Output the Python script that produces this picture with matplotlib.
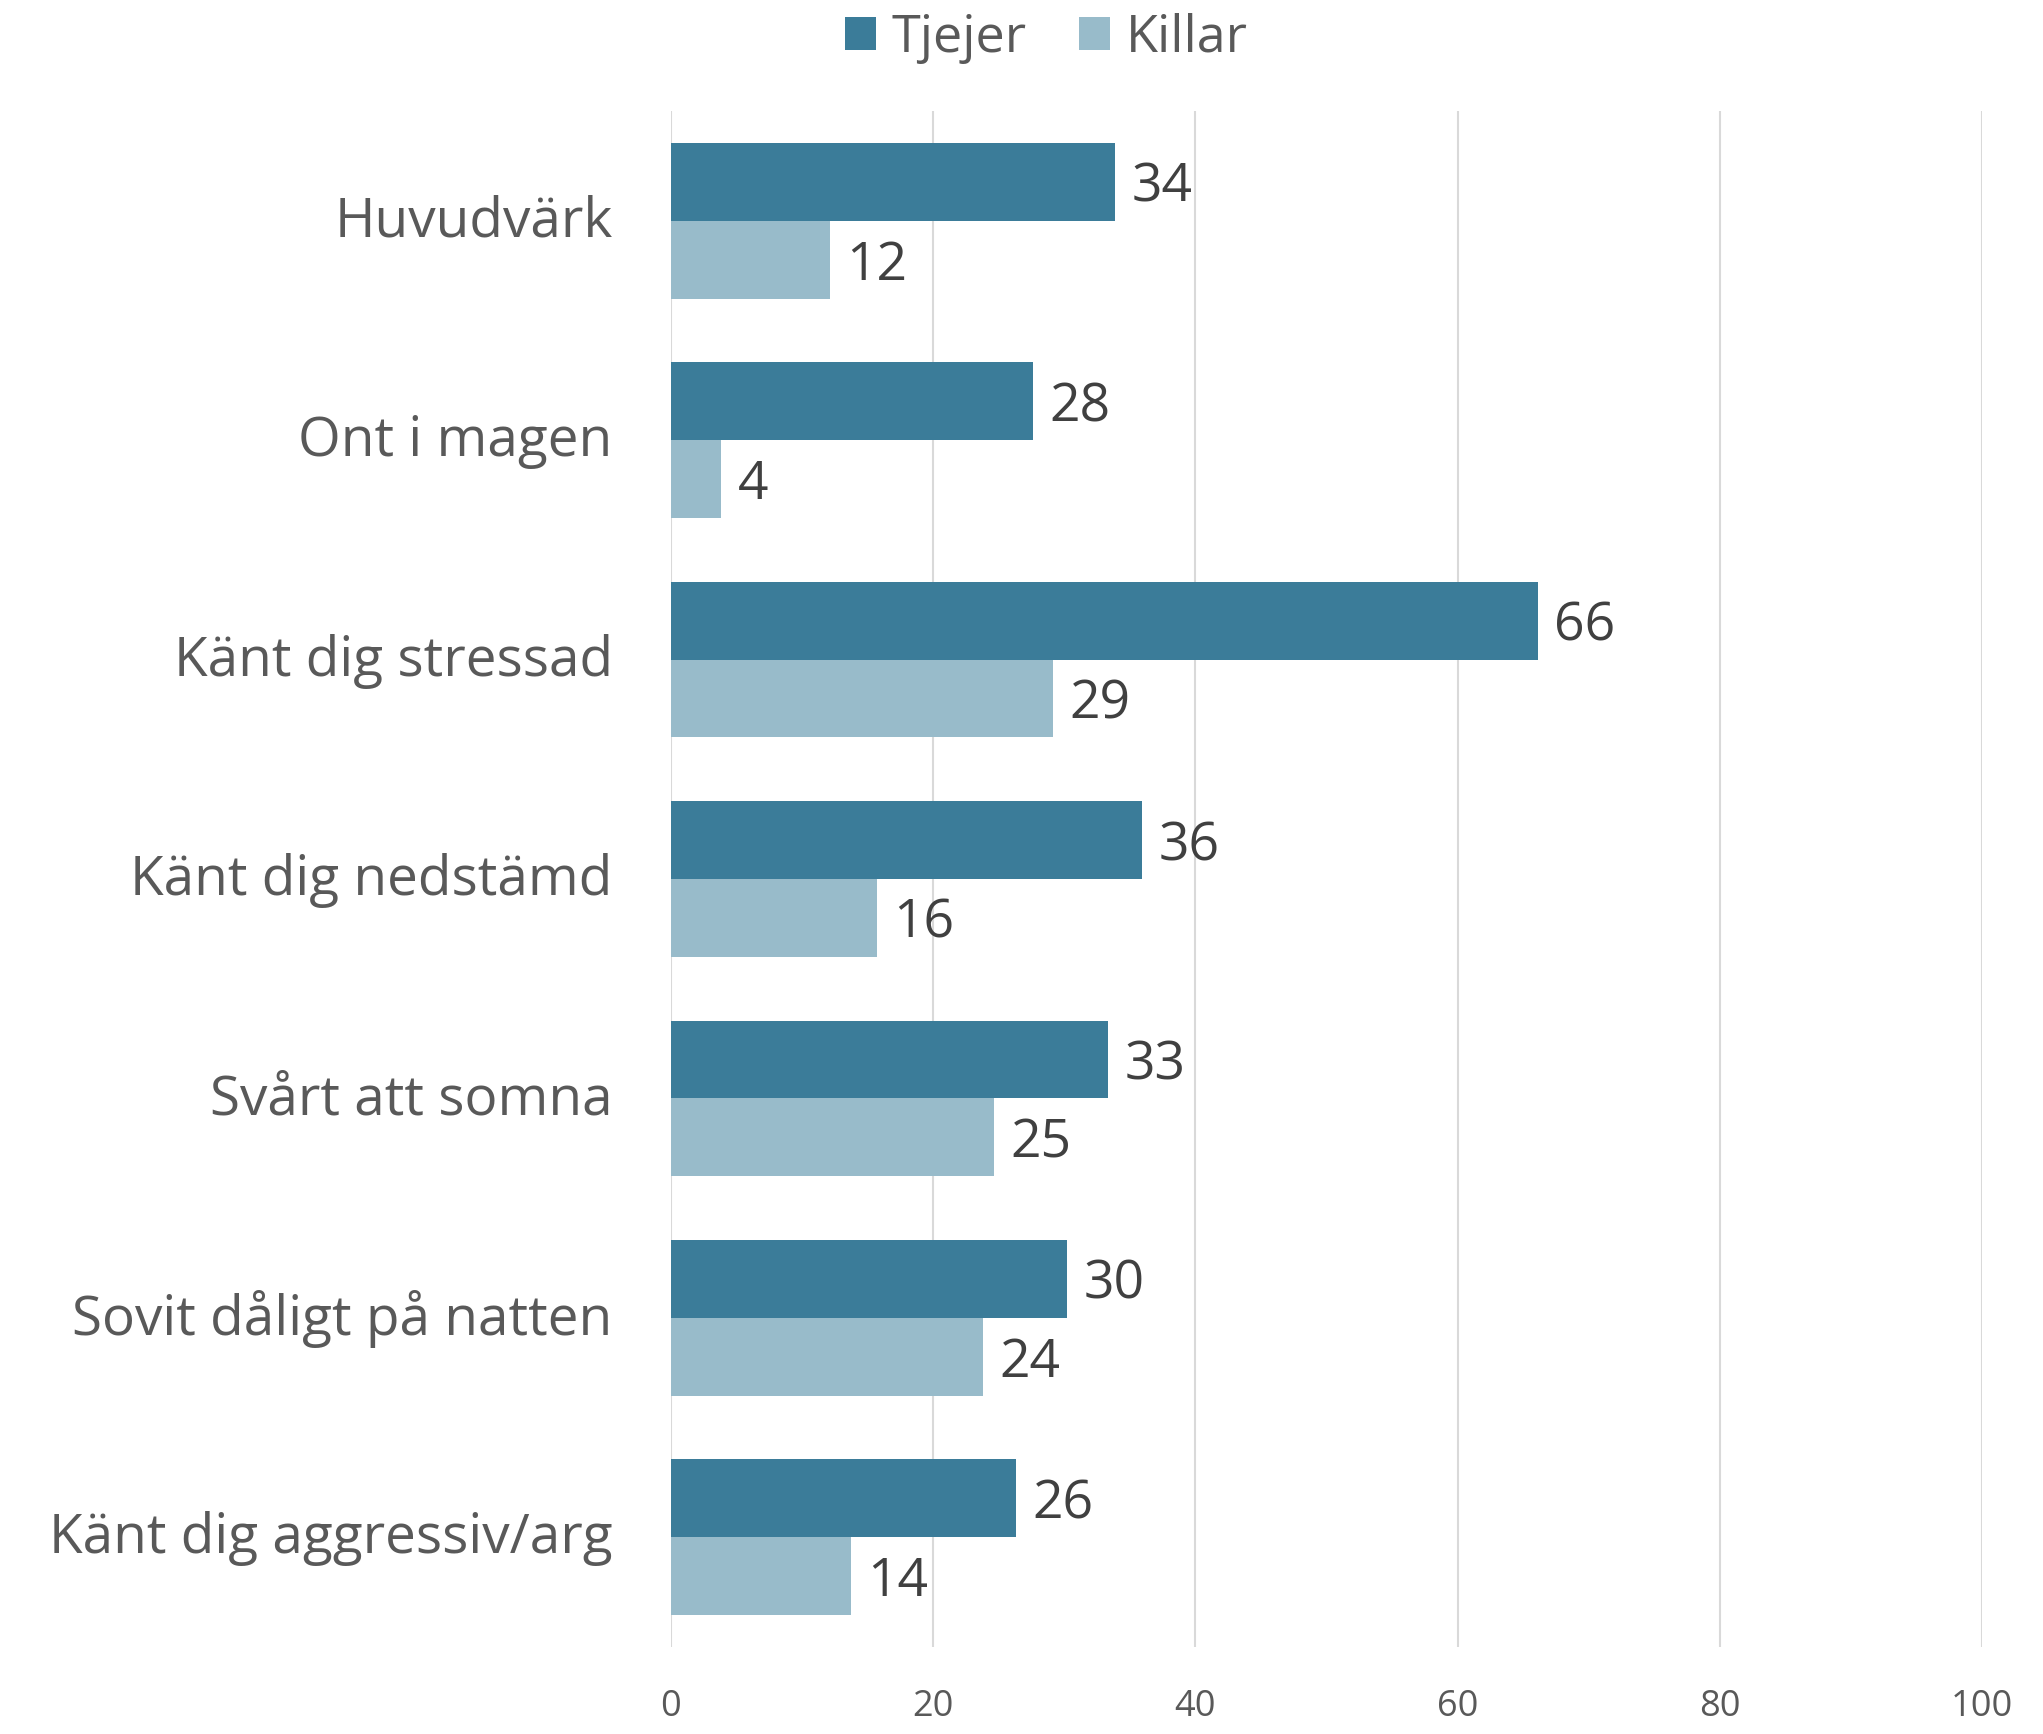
import matplotlib
matplotlib.use("Agg")
import matplotlib.pyplot as plt
import matplotlib.transforms as mtransforms
import numpy as np

categories = ["Huvudvärk", "Ont i magen", "Känt dig stressad", "Känt dig nedstämd",
              "Svårt att somna", "Sovit dåligt på natten", "Känt dig aggressiv/arg"]
tjejer = [33.9, 27.6, 66.1, 35.9, 33.3, 30.2, 26.3]
killar = [12.1, 3.8, 29.1, 15.7, 24.6, 23.8, 13.7]
series_names = ["Tjejer", "Killar"]
xticks = [0, 20, 40, 60, 80, 100]

plt.rcParams['font.family'] = ['Open Sans', 'DejaVu Sans']

c_t = "#3B7C99"
c_k = "#98BBCA"
gray = "#595959"
dark = "#404040"

fig = plt.figure(figsize=(20.43, 17.34), dpi=100)
ax = fig.add_axes([671/2043, 1 - 1647/1734, (1982-671)/2043, (1647-111)/1734])

y = np.arange(len(categories))
h = 0.355
b1 = ax.barh(y - h/2, tjejer, height=h, color=c_t, label=series_names[0], zorder=3)
b2 = ax.barh(y + h/2, killar, height=h, color=c_k, label=series_names[1], zorder=3)

for bars, vals in ((b1, tjejer), (b2, killar)):
    anns = ax.bar_label(bars, labels=[f"{round(v)}" for v in vals], padding=12,
                        fontsize=38.5, color=dark)
    for a in anns:
        a.xyann = (12, -4.5)

ax.set_xlim(0, 100)
ax.set_ylim(len(categories) - 0.5, -0.5)
ax.set_yticks(y)
ax.set_yticklabels(categories, fontsize=39.5, color=gray)
ax.set_xticks(xticks)
ax.set_xticklabels([str(t) for t in xticks], fontsize=26, color=gray)
ax.tick_params(axis='y', length=0, pad=42)
ax.tick_params(axis='x', length=0, pad=30)
shift = mtransforms.ScaledTranslation(0, 3.5/72, fig.dpi_scale_trans)
for lbl in ax.get_yticklabels():
    lbl.set_transform(lbl.get_transform() + shift)
for s in ax.spines.values():
    s.set_visible(False)
ax.grid(axis='x', color="#D9D9D9", linewidth=1.5, zorder=0)
ax.set_axisbelow(True)

fig.legend(handles=[b1, b2], labels=series_names, loc='center',
           bbox_to_anchor=(1046/2043, 1 - 38/1734), ncol=2, frameon=False,
           fontsize=37.5, labelcolor=gray, handlelength=0.6, handleheight=0.6,
           handletextpad=0.3, columnspacing=1.0)

fig.savefig("out.png", dpi=100)
